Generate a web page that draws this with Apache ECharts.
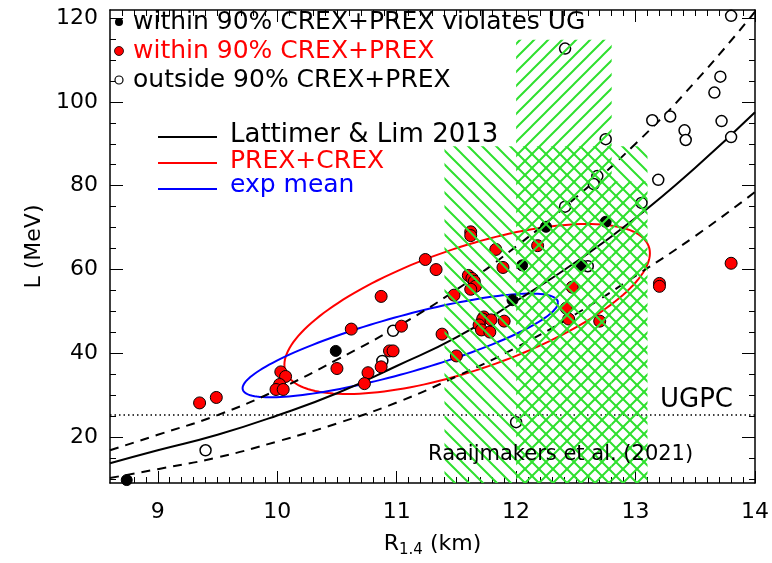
<!DOCTYPE html>
<html>
<head>
<meta charset="utf-8">
<script src="https://cdn.jsdelivr.net/npm/echarts@6/dist/echarts.min.js"></script>
<style>
html, body { margin: 0; padding: 0; background: #fff; }
#chart { width: 772px; height: 563px; }
</style>
</head>
<body>
<div id="chart"></div>
<script>
// points: [R_1.4 (km), L (MeV)]
const violatesUG = [[8.74, 9.8], [10.49, 40.6], [12.25, 70.2], [12.75, 71.4], [12.05, 61.0], [12.55, 61.0], [11.97, 52.7]]
const within90 = [
  [9.35, 28.2], [9.49, 29.5], [10.03, 35.6], [10.07, 34.5], [10.02, 32.6], [9.99, 31.4], [10.05, 31.4],
  [10.50, 36.4], [10.76, 35.4], [10.87, 36.8], [10.73, 32.8], [10.94, 40.6], [10.97, 40.6], [10.62, 45.8],
  [11.04, 46.5], [10.87, 53.6], [11.24, 62.4], [11.33, 60.0], [11.62, 69.0], [11.62, 68.1], [11.60, 58.6],
  [11.63, 57.9], [11.65, 57.2], [11.66, 56.0], [11.62, 55.3], [11.48, 53.9], [11.38, 44.6], [11.50, 39.4],
  [11.83, 64.8], [11.89, 60.5], [12.18, 65.7], [11.73, 48.7], [11.72, 48.2], [11.79, 48.0], [11.90, 47.7],
  [11.69, 46.8], [11.71, 45.6], [11.78, 45.1], [12.47, 55.8], [12.42, 50.8], [12.44, 48.2], [12.70, 47.7],
  [13.20, 56.7], [13.20, 56.0], [13.80, 61.5]
]
const outside90 = [
  [13.80, 120.5], [12.41, 112.7], [13.71, 106.0], [13.66, 102.2], [13.29, 96.5], [13.14, 95.6], [13.72, 95.4],
  [13.41, 93.2], [13.42, 90.9], [13.80, 91.6], [12.75, 91.1], [13.19, 81.4], [12.68, 82.3], [12.65, 80.4],
  [12.41, 75.0], [13.05, 75.9], [12.60, 60.8], [10.97, 45.4], [10.88, 38.2], [9.40, 16.9], [12.00, 23.6]
]

// Lattimer & Lim 2013 band, read along R
const llR = [8.6, 9, 9.5, 10, 10.5, 11, 11.5, 12, 12.5, 13, 13.5, 14]
const llMid = [13.8, 16.9, 20.6, 25.2, 30.5, 37.0, 43.8, 52.5, 61.8, 72.3, 84.3, 97.5]
const llUpper = [16.9, 20.6, 25.3, 31.3, 38.5, 46.3, 55.2, 65.5, 77.2, 90.0, 104.8, 121.5]
const llLower = [10.3, 12.4, 15.2, 19.0, 23.3, 28.3, 34.5, 41.4, 49.4, 58.5, 68.0, 78.5]

// ellipses: centre R, centre L, conjugate half axes (dR1, dL1, dR2, dL2)
const prexCrex = [11.59, 50.6, 1.53, 13.3, 0, 15.3]
const expMean = [11.03, 41.9, 1.32, 10.2, 0, 7.0]

const ugpcL = 25.3

// Raaijmakers et al. (2021): [R from, R to, L top]
const hatchBack = [[11.4, 13.1, 89.4]]
const hatchFwd = [[12.0, 12.8, 114.8], [12.8, 13.1, 81.0]]

const xMin = 8.6, xMax = 14, yMin = 9.1, yMax = 121.9
const xMajor = [9, 10, 11, 12, 13, 14]
const yMajor = [20, 40, 60, 80, 100, 120]

const xMinor = []
for (let v = 87; v < 140; v++) if (v % 10) xMinor.push(v / 10)
const yMinor = []
for (let v = 10; v <= 120; v += 5) if (v % 20) yMinor.push(v)

const FONT = 'DejaVu Sans'
const GREEN = '#2fe02f'

const chart = echarts.init(document.getElementById('chart'))

const makeHatch = (dir) => {
  const s = 14
  const c = document.createElement('canvas')
  c.width = c.height = s
  const g = c.getContext('2d')
  g.strokeStyle = GREEN
  g.lineWidth = 2
  g.beginPath()
  if (dir > 0) {
    g.moveTo(-2, s + 2); g.lineTo(s + 2, -2)
    g.moveTo(-2, 2); g.lineTo(2, -2)
    g.moveTo(s - 2, s + 2); g.lineTo(s + 2, s - 2)
  } else {
    g.moveTo(-2, -2); g.lineTo(s + 2, s + 2)
    g.moveTo(s - 2, -2); g.lineTo(s + 2, 2)
    g.moveTo(-2, s - 2); g.lineTo(2, s + 2)
  }
  g.stroke()
  return c
}

const hatchSeries = (regions, dir) => ({
  type: 'custom',
  z: 3,
  silent: true,
  data: regions,
  encode: { x: [0, 1], y: 2 },
  renderItem: (params, api) => {
    const a = api.coord([api.value(0), api.value(2)])
    const b = api.coord([api.value(1), yMin])
    return {
      type: 'rect',
      shape: { x: a[0], y: a[1], width: b[0] - a[0], height: b[1] - a[1] },
      style: { fill: { image: makeHatch(dir), repeat: 'repeat' } }
    }
  }
})

const ellipseSeries = (p, color) => ({
  type: 'custom',
  z: 1,
  silent: true,
  data: [p],
  renderItem: (params, api) => {
    const pts = []
    for (let i = 0; i <= 160; i++) {
      const t = i / 160 * Math.PI * 2
      pts.push(api.coord([
        p[0] + p[2] * Math.cos(t) + p[4] * Math.sin(t),
        p[1] + p[3] * Math.cos(t) + p[5] * Math.sin(t)
      ]))
    }
    return { type: 'polyline', shape: { points: pts }, style: { stroke: color, lineWidth: 2, fill: null } }
  }
})

const curve = (vals, type) => ({
  type: 'line',
  z: 1,
  silent: true,
  smooth: true,
  symbol: 'none',
  data: llR.map((r, i) => [r, vals[i]]),
  lineStyle: { color: '#000', width: 2, type }
})

const xAxisOf = (position, ticks, len, main) => ({
  type: 'value', min: xMin, max: xMax, position,
  axisLine: { show: main, onZero: false, lineStyle: { color: '#000', width: 1.5 } },
  axisTick: { show: true, inside: true, length: len, customValues: ticks, lineStyle: { color: '#000', width: 1 } },
  axisLabel: position === 'bottom' && main
    ? { show: true, customValues: xMajor, margin: 18, fontSize: 22, fontFamily: FONT, color: '#000' }
    : { show: false },
  splitLine: { show: false }
})

const yAxisOf = (position, ticks, len, main) => ({
  type: 'value', min: yMin, max: yMax, position,
  axisLine: { show: main, onZero: false, lineStyle: { color: '#000', width: 1.5 } },
  axisTick: { show: true, inside: true, length: len, customValues: ticks, lineStyle: { color: '#000', width: 1 } },
  axisLabel: position === 'left' && main
    ? { show: true, customValues: yMajor, margin: 12, fontSize: 22, fontFamily: FONT, color: '#000' }
    : { show: false },
  splitLine: { show: false }
})

const xAxes = [
  xAxisOf('bottom', xMajor, 12, true),
  xAxisOf('bottom', xMinor, 6, false),
  xAxisOf('top', xMajor, 12, true),
  xAxisOf('top', xMinor, 6, false)
]
Object.assign(xAxes[0], {
  name: '{r|R}{s|1.4}{r| (km)}',
  nameLocation: 'middle',
  nameGap: 48,
  nameTextStyle: {
    rich: {
      r: { fontSize: 22, fontFamily: FONT, color: '#000' },
      s: { fontSize: 15, fontFamily: FONT, color: '#000', padding: [12, 0, 0, 0] }
    }
  }
})
const yAxes = [
  yAxisOf('left', yMajor, 13, true),
  yAxisOf('left', yMinor, 6, false),
  yAxisOf('right', yMajor, 13, true),
  yAxisOf('right', yMinor, 6, false)
]
Object.assign(yAxes[0], {
  name: 'L (MeV)',
  nameLocation: 'middle',
  nameGap: 64,
  nameTextStyle: { fontSize: 22, fontFamily: FONT, color: '#000' }
})

const legendText = (x, y, text, color, size) => ({
  type: 'text', x, y, z: 100,
  style: { text, fill: color, font: `${size}px "${FONT}"`, verticalAlign: 'middle' }
})

chart.setOption({
  animation: false,
  backgroundColor: '#fff',
  grid: { left: 110, right: 16, top: 10, bottom: 77, containLabel: false },
  xAxis: xAxes,
  yAxis: yAxes,
  series: [
    curve(llMid, 'solid'),
    curve(llUpper, [9, 7]),
    curve(llLower, [9, 7]),
    {
      type: 'line', z: 1, silent: true, symbol: 'none',
      data: [[xMin, ugpcL], [xMax, ugpcL]],
      lineStyle: { color: '#000', width: 1.5, type: [1.5, 3] }
    },
    ellipseSeries(prexCrex, '#ff0000'),
    ellipseSeries(expMean, '#0000ff'),
    {
      type: 'scatter', z: 2, silent: true, symbolSize: 11,
      data: outside90,
      itemStyle: { color: '#fff', borderColor: '#000', borderWidth: 1.5, opacity: 1 }
    },
    {
      type: 'scatter', z: 2, silent: true, symbolSize: 12,
      data: within90,
      itemStyle: { color: '#ff0000', borderColor: '#000', borderWidth: 1, opacity: 1 }
    },
    {
      type: 'scatter', z: 2, silent: true, symbolSize: 11,
      data: violatesUG,
      itemStyle: { color: '#000', borderColor: '#000', borderWidth: 1, opacity: 1 }
    },
    hatchSeries(hatchBack, -1),
    hatchSeries(hatchFwd, 1)
  ],
  graphic: [
    { type: 'circle', z: 100, shape: { cx: 119, cy: 22, r: 4 }, style: { fill: '#000' } },
    { type: 'circle', z: 100, shape: { cx: 119, cy: 51, r: 4.5 }, style: { fill: '#ff0000', stroke: '#000', lineWidth: 0.8 } },
    { type: 'circle', z: 100, shape: { cx: 119, cy: 80, r: 4 }, style: { fill: '#fff', stroke: '#000', lineWidth: 1.2 } },
    legendText(133, 22, 'within 90% CREX+PREX violates UG', '#000', 25),
    legendText(133, 51, 'within 90% CREX+PREX', '#ff0000', 25),
    legendText(133, 80, 'outside 90% CREX+PREX', '#000', 25),
    { type: 'line', z: 100, shape: { x1: 158, y1: 137, x2: 217, y2: 137 }, style: { stroke: '#000', lineWidth: 2 } },
    { type: 'line', z: 100, shape: { x1: 158, y1: 163, x2: 217, y2: 163 }, style: { stroke: '#ff0000', lineWidth: 2 } },
    { type: 'line', z: 100, shape: { x1: 158, y1: 189, x2: 217, y2: 189 }, style: { stroke: '#0000ff', lineWidth: 2 } },
    legendText(230, 135, 'Lattimer & Lim 2013', '#000', 26),
    legendText(230, 161, 'PREX+CREX', '#ff0000', 25),
    legendText(230, 185, 'exp mean', '#0000ff', 25),
    legendText(660, 400, 'UGPC', '#000', 26),
    legendText(428, 455, 'Raaijmakers et al. (2021)', '#000', 21)
  ]
})
</script>
</body>
</html>
